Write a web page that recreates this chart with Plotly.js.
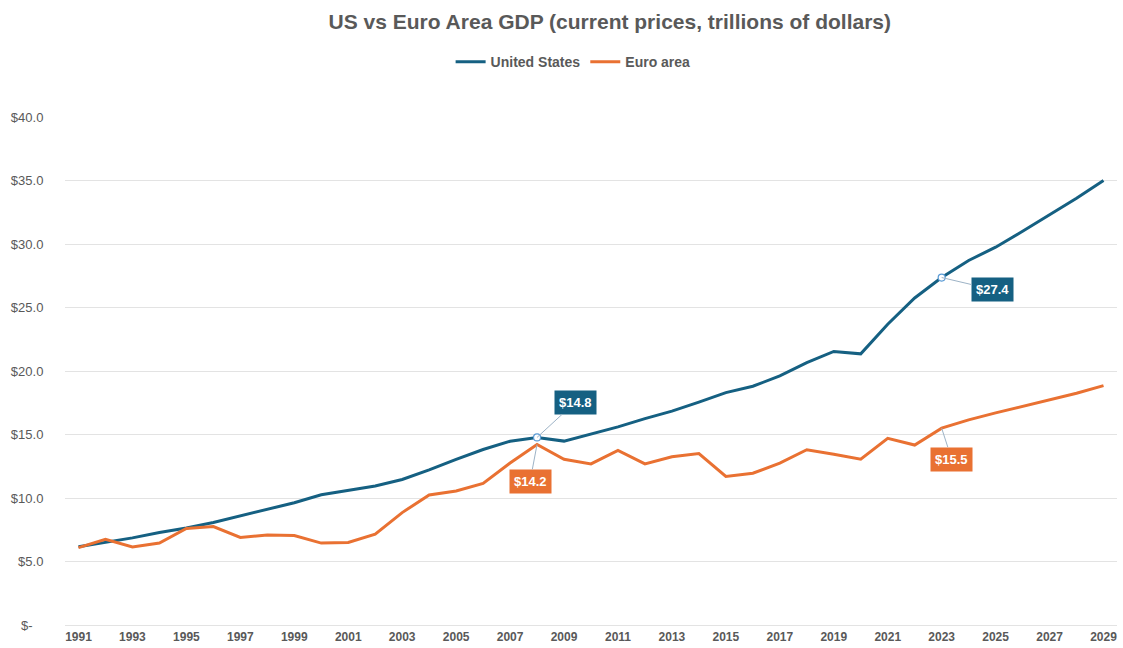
<!DOCTYPE html>
<html>
<head>
<meta charset="utf-8">
<script src="https://cdn.plot.ly/plotly-3.0.1.min.js"></script>
<style>html,body{margin:0;padding:0;background:#fff;}#chart{width:1123px;height:648px;}</style>
</head>
<body>
<div id="chart"></div>
<script>
const years = [1991,1992,1993,1994,1995,1996,1997,1998,1999,2000,2001,2002,2003,2004,2005,2006,2007,2008,2009,2010,2011,2012,2013,2014,2015,2016,2017,2018,2019,2020,2021,2022,2023,2024,2025,2026,2027,2028,2029];
const unitedStates = [6.16,6.52,6.86,7.29,7.64,8.07,8.58,9.06,9.63,10.25,10.58,10.94,11.46,12.21,13.04,13.82,14.47,14.77,14.48,15.05,15.60,16.25,16.84,17.55,18.30,18.80,19.61,20.66,21.54,21.35,23.68,25.75,27.36,28.70,29.75,31.00,32.30,33.60,35.00];
const euroArea = [6.09,6.75,6.15,6.45,7.60,7.75,6.90,7.08,7.05,6.45,6.50,7.15,8.85,10.24,10.55,11.15,12.75,14.22,13.05,12.68,13.75,12.68,13.25,13.50,11.70,11.95,12.75,13.80,13.45,13.05,14.70,14.17,15.50,16.15,16.70,17.20,17.70,18.25,18.85];
const yTickVals = [0,5,10,15,20,25,30,35,40];
const yTickText = ['$-\u00a0\u00a0\u00a0','$5.0','$10.0','$15.0','$20.0','$25.0','$30.0','$35.0','$40.0'];
const xTickVals = years.filter((y,i)=>i%2===0);
const callouts = [
  {series:'us', year:2008, text:'$14.8', ax:38, ay:-35},
  {series:'eu', year:2008, text:'$14.2', ax:-7, ay:37},
  {series:'us', year:2023, text:'$27.4', ax:51, ay:12},
  {series:'eu', year:2023, text:'$15.5', ax:10, ay:31}
];
const selectedYears = [2008, 2023];
const BLUE = '#156082', ORANGE = '#E97132';
const FONT = 'Liberation Sans, Arial, sans-serif';

const traces = [
  {x: years, y: unitedStates, name: 'United States', mode: 'lines', line: {color: BLUE, width: 3}},
  {x: years, y: euroArea, name: 'Euro area', mode: 'lines', line: {color: ORANGE, width: 3}},
  {x: selectedYears, y: selectedYears.map(y => unitedStates[years.indexOf(y)]), mode: 'markers',
   showlegend: false, hoverinfo: 'skip',
   marker: {symbol: 'circle', size: 7, color: '#ffffff', line: {color: '#5B9BD5', width: 1.2}}}
];

const annotations = callouts.map(c => {
  const vals = c.series === 'us' ? unitedStates : euroArea;
  const v = vals[years.indexOf(c.year)];
  return {
    x: c.year, y: v, xref: 'x', yref: 'y',
    text: '<b>' + c.text + '</b>',
    showarrow: true, arrowhead: 0, arrowwidth: 1, arrowcolor: '#9DB3C6',
    ax: c.ax, ay: c.ay, standoff: 0,
    bgcolor: c.series === 'us' ? BLUE : ORANGE,
    font: {family: FONT, size: 13, color: '#ffffff'},
    borderpad: 4
  };
});

const layout = {
  width: 1123, height: 648,
  paper_bgcolor: '#ffffff', plot_bgcolor: '#ffffff',
  margin: {l: 65, r: 6, t: 117, b: 23},
  font: {family: FONT, color: '#595959'},
  title: {
    text: 'US vs Euro Area GDP (current prices, trillions of dollars)',
    font: {family: FONT, size: 21, color: '#595959', weight: 'bold'},
    x: 0.543, xanchor: 'center', xref: 'container',
    y: 0.966, yanchor: 'middle', yref: 'container'
  },
  showlegend: true,
  legend: {
    orientation: 'h', x: 0.483, xanchor: 'center', y: 1.108, yanchor: 'middle',
    font: {family: FONT, size: 14, color: '#595959', weight: 'bold'},
    bgcolor: 'rgba(0,0,0,0)'
  },
  xaxis: {
    range: [1990.5, 2029.5], tickvals: xTickVals, ticktext: xTickVals.map(String),
    showgrid: false, zeroline: false, showline: false,
    ticks: 'outside', ticklen: 1, tickcolor: 'rgba(0,0,0,0)',
    tickfont: {family: FONT, size: 12, color: '#595959', weight: 'bold'}
  },
  yaxis: {
    range: [0, 40], tickvals: yTickVals, ticktext: yTickText,
    showgrid: true, gridcolor: '#E3E3E3', gridwidth: 1,
    zeroline: true, zerolinecolor: '#E3E3E3', zerolinewidth: 1, showline: false,
    ticks: 'outside', ticklen: 18, tickcolor: 'rgba(0,0,0,0)',
    tickfont: {family: FONT, size: 13, color: '#595959'}
  },
  annotations: annotations
};

Plotly.newPlot('chart', traces, layout, {displayModeBar: false, staticPlot: true});
</script>
</body>
</html>
